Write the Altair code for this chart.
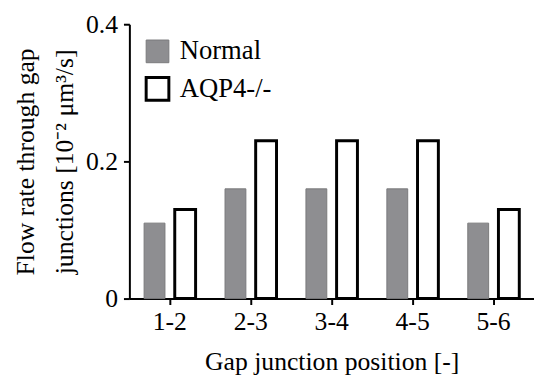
import altair as alt
import pandas as pd

positions = ["1-2", "2-3", "3-4", "4-5", "5-6"]
series = ["Normal", "AQP4-/-"]
normal = [0.11, 0.16, 0.16, 0.16, 0.11]
aqp4 = [0.13, 0.23, 0.23, 0.23, 0.13]
y_ticks = [0, 0.2, 0.4]

rows = []
for i, p in enumerate(positions):
    rows.append({"pos": p, "series": "Normal", "value": normal[i]})
    rows.append({"pos": p, "series": "AQP4-/-", "value": aqp4[i]})
df = pd.DataFrame(rows)

font = "Liberation Serif"
leg = alt.Legend(rowPadding=7)

chart = alt.Chart(df).mark_bar().encode(
    x=alt.X("pos:N", sort=positions,
            scale=alt.Scale(paddingInner=0, paddingOuter=0),
            axis=alt.Axis(title="Gap junction position [-]", labelAngle=0,
                          labelPadding=4, titlePadding=15)),
    xOffset=alt.XOffset("series:N", sort=series,
                        scale=alt.Scale(domain=series, paddingInner=0.32, paddingOuter=0.48)),
    y=alt.Y("value:Q", scale=alt.Scale(domain=[0, 0.4], nice=False),
            axis=alt.Axis(values=y_ticks, format="~g",
                          title=["Flow rate through gap", "junctions [10\u207b\u00b2 \u03bcm\u00b3/s]"],
                          labelPadding=6, titlePadding=8, titleLineHeight=40)),
    fill=alt.Fill("series:N", sort=series,
                  scale=alt.Scale(domain=series, range=["#8e8e91", "#ffffff"]),
                  legend=leg),
    stroke=alt.Stroke("series:N", sort=series,
                      scale=alt.Scale(domain=series, range=["#7a7a7c", "#000000"]),
                      legend=leg),
    strokeWidth=alt.StrokeWidth("series:N", sort=series,
                                scale=alt.Scale(domain=series, range=[1, 3]),
                                legend=leg),
).properties(
    width=410, height=278,
    autosize=alt.AutoSizeParams(type="none"),
    padding={"left": 123, "top": 14, "right": 0, "bottom": 75},
).configure_view(stroke=None).configure_axis(
    domainColor="black", domainWidth=2, tickColor="black", tickWidth=2, tickSize=6,
    grid=False, labelFont=font, labelFontSize=26, labelColor="black",
    titleFont=font, titleFontSize=26, titleFontWeight="normal", titleColor="black",
).configure_legend(
    orient="none", legendX=15, legendY=14, title=None, symbolType="square",
    symbolSize=529, labelFont=font, labelFontSize=27, labelColor="black",
    labelOffset=9, padding=0, symbolOpacity=1,
)

chart.save("out.html", embed_options={"renderer": "svg", "actions": False})
